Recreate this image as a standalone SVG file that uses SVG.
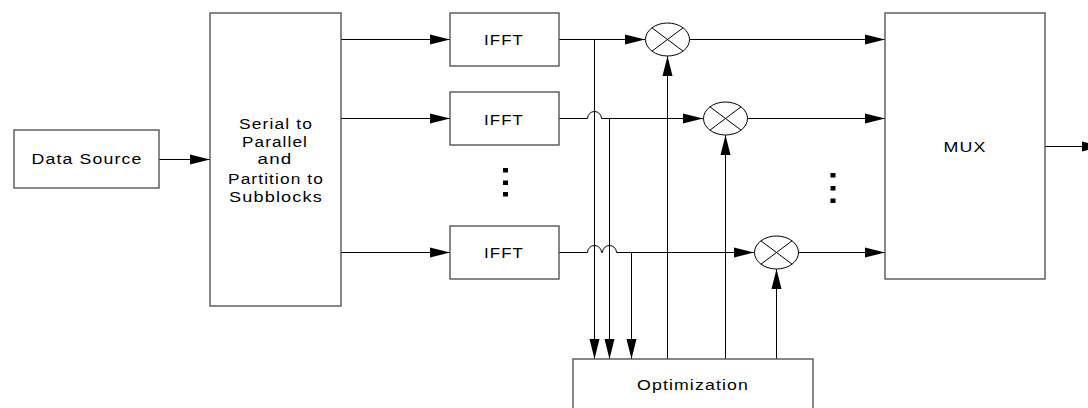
<svg xmlns="http://www.w3.org/2000/svg" width="1088" height="408" viewBox="0 0 1088 408">
<style>
.box{fill:#fff;stroke:#555;stroke-width:1.4}
.lbl{font-family:"Liberation Sans",Arial,sans-serif;font-size:15.5px;letter-spacing:1px;fill:#000;text-anchor:middle}
.ln{fill:none;stroke:#000;stroke-width:1}
.mul{fill:#fff;stroke:#000;stroke-width:1}
.dot{fill:#000}
</style>
<defs>
<marker id="ah" markerUnits="userSpaceOnUse" markerWidth="20" markerHeight="10" refX="20" refY="5" orient="auto" overflow="visible">
<path d="M0,0 L20,5 L0,10 z" fill="#000"/>
</marker>
</defs>
<rect width="1088" height="408" fill="#fff"/>
<g id="connectors">
<path class="ln" d="M159,159.5 H210" marker-end="url(#ah)"/>
<path class="ln" d="M341,39.5 H450" marker-end="url(#ah)"/>
<path class="ln" d="M341,118.5 H450" marker-end="url(#ah)"/>
<path class="ln" d="M341,252.5 H450" marker-end="url(#ah)"/>
<path class="ln" d="M559,39.5 H645" marker-end="url(#ah)"/>
<path class="ln" d="M559,118.5 H587.5 a7,7 0 0 1 14,0 H703" marker-end="url(#ah)"/>
<path class="ln" d="M559,252.5 H587.5 a7,7 0 0 1 14,0 H602.5 a7,7 0 0 1 14,0 H754" marker-end="url(#ah)"/>
<path class="ln" d="M594.5,39.5 V359" marker-end="url(#ah)"/>
<path class="ln" d="M609.5,118.5 V359" marker-end="url(#ah)"/>
<path class="ln" d="M631.5,252.5 V359" marker-end="url(#ah)"/>
<path class="ln" d="M667.5,359 V56" marker-end="url(#ah)"/>
<path class="ln" d="M725.5,359 V135" marker-end="url(#ah)"/>
<path class="ln" d="M776.5,359 V269" marker-end="url(#ah)"/>
<path class="ln" d="M689.5,39.5 H885" marker-end="url(#ah)"/>
<path class="ln" d="M747.5,118.5 H885" marker-end="url(#ah)"/>
<path class="ln" d="M798.5,252.5 H885" marker-end="url(#ah)"/>
<path class="ln" d="M1045,146.5 H1102" stroke="#555" marker-end="url(#ah)"/>
</g>
<g id="data-source">
<rect class="box" x="14" y="130" width="145" height="58"/>
<text class="lbl" x="87" y="163.5" textLength="111" lengthAdjust="spacingAndGlyphs">Data Source</text>
</g>
<g id="serial-to-parallel">
<rect class="box" x="210" y="13" width="131" height="293"/>
<text class="lbl" x="276" y="128.5" textLength="74" lengthAdjust="spacingAndGlyphs">Serial to</text>
<text class="lbl" x="275" y="146.5" textLength="66" lengthAdjust="spacingAndGlyphs">Parallel</text>
<text class="lbl" x="275" y="163.5" textLength="35" lengthAdjust="spacingAndGlyphs">and</text>
<text class="lbl" x="276" y="183.5" textLength="96" lengthAdjust="spacingAndGlyphs">Partition to</text>
<text class="lbl" x="276" y="201.5" textLength="94" lengthAdjust="spacingAndGlyphs">Subblocks</text>
</g>
<g id="ifft-1">
<rect class="box" x="450" y="13" width="109" height="53"/>
<text class="lbl" x="504" y="44.5" textLength="40" lengthAdjust="spacingAndGlyphs">IFFT</text>
</g>
<g id="ifft-2">
<rect class="box" x="450" y="92" width="109" height="53"/>
<text class="lbl" x="504" y="124.5" textLength="40" lengthAdjust="spacingAndGlyphs">IFFT</text>
</g>
<g id="ifft-3">
<rect class="box" x="450" y="226" width="109" height="53"/>
<text class="lbl" x="504" y="257.5" textLength="40" lengthAdjust="spacingAndGlyphs">IFFT</text>
</g>
<g id="dots-left">
<rect class="dot" x="503" y="168" width="5" height="4.5"/>
<rect class="dot" x="503" y="180.5" width="5" height="4.5"/>
<rect class="dot" x="503" y="192" width="5" height="4.5"/>
</g>
<g id="dots-right">
<rect class="dot" x="830.5" y="173" width="5" height="4.5"/>
<rect class="dot" x="830.5" y="186" width="5" height="4.5"/>
<rect class="dot" x="830.5" y="198.5" width="5" height="4.5"/>
</g>
<g id="mult-1">
<ellipse class="mul" cx="667.5" cy="39.5" rx="22" ry="16.5"/>
<path class="ln" d="M651.9,27.8 L683.1,51.2 M651.9,51.2 L683.1,27.8"/>
</g>
<g id="mult-2">
<ellipse class="mul" cx="725.5" cy="118.5" rx="22" ry="16.5"/>
<path class="ln" d="M709.9,106.8 L741.1,130.2 M709.9,130.2 L741.1,106.8"/>
</g>
<g id="mult-3">
<ellipse class="mul" cx="776.5" cy="252.5" rx="22" ry="16.5"/>
<path class="ln" d="M760.9,240.8 L792.1,264.2 M760.9,264.2 L792.1,240.8"/>
</g>
<g id="mux">
<rect class="box" x="885" y="13" width="160" height="266"/>
<text class="lbl" x="965" y="151.5" textLength="43" lengthAdjust="spacingAndGlyphs">MUX</text>
</g>
<g id="optimization">
<rect class="box" x="573" y="359" width="240" height="60"/>
<text class="lbl" x="693" y="390" textLength="112" lengthAdjust="spacingAndGlyphs">Optimization</text>
</g>
</svg>
